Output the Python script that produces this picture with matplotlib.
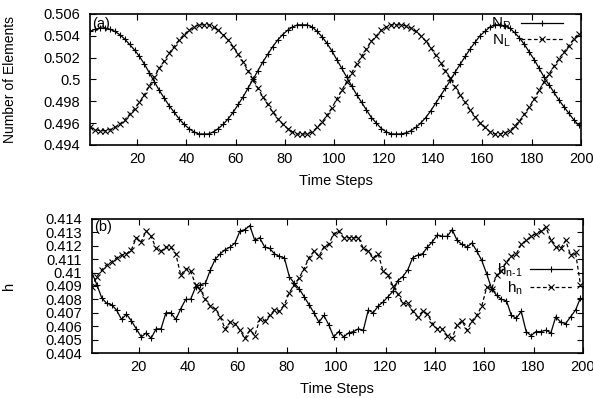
import numpy as np
import matplotlib
matplotlib.use('Agg')
import matplotlib.pyplot as plt

plt.rcParams['font.family'] = ['Liberation Sans', 'DejaVu Sans']
plt.rcParams['mathtext.fontset'] = 'custom'
plt.rcParams['mathtext.rm'] = 'Liberation Sans'
plt.rcParams['mathtext.it'] = 'Liberation Sans'

steps = np.arange(1, 200, 2)

# (a) fraction of elements
n_r = [0.5044, 0.5046, 0.5047, 0.5047, 0.5046, 0.5044, 0.5041, 0.5037, 0.5032, 0.5027,
       0.5021, 0.5014, 0.5006, 0.4998, 0.4990, 0.4983, 0.4976, 0.4970, 0.4964, 0.4959,
       0.4955, 0.4952, 0.4950, 0.4950, 0.4950, 0.4952, 0.4955, 0.4959, 0.4964, 0.4970,
       0.4977, 0.4984, 0.4992, 0.5000, 0.5008, 0.5016, 0.5023, 0.5030, 0.5036, 0.5041,
       0.5045, 0.5048, 0.5050, 0.5050, 0.5050, 0.5048, 0.5044, 0.5039, 0.5033, 0.5026,
       0.5018, 0.5010, 0.5002, 0.4994, 0.4986, 0.4979, 0.4972, 0.4965, 0.4960, 0.4955,
       0.4952, 0.4950, 0.4950, 0.4950, 0.4951, 0.4953, 0.4956, 0.4960, 0.4965, 0.4971,
       0.4978, 0.4985, 0.4992, 0.4999, 0.5007, 0.5014, 0.5021, 0.5028, 0.5034, 0.5040,
       0.5044, 0.5048, 0.5050, 0.5050, 0.5049, 0.5047, 0.5043, 0.5038, 0.5032, 0.5025,
       0.5018, 0.5010, 0.5002, 0.4995, 0.4988, 0.4981, 0.4975, 0.4969, 0.4963, 0.4958]
n_l = [0.4956, 0.4954, 0.4953, 0.4953, 0.4954, 0.4956, 0.4959, 0.4963, 0.4968, 0.4973,
       0.4979, 0.4986, 0.4994, 0.5002, 0.5010, 0.5017, 0.5024, 0.5030, 0.5036, 0.5041,
       0.5045, 0.5048, 0.5050, 0.5050, 0.5050, 0.5048, 0.5045, 0.5041, 0.5036, 0.5030,
       0.5023, 0.5016, 0.5008, 0.5000, 0.4992, 0.4984, 0.4977, 0.4970, 0.4964, 0.4959,
       0.4955, 0.4952, 0.4950, 0.4950, 0.4950, 0.4952, 0.4956, 0.4961, 0.4967, 0.4974,
       0.4982, 0.4990, 0.4998, 0.5006, 0.5014, 0.5021, 0.5028, 0.5035, 0.5040, 0.5045,
       0.5048, 0.5050, 0.5050, 0.5050, 0.5049, 0.5047, 0.5044, 0.5040, 0.5035, 0.5029,
       0.5022, 0.5015, 0.5008, 0.5001, 0.4993, 0.4986, 0.4979, 0.4972, 0.4966, 0.4960,
       0.4956, 0.4952, 0.4950, 0.4950, 0.4951, 0.4953, 0.4957, 0.4962, 0.4968, 0.4975,
       0.4982, 0.4990, 0.4998, 0.5005, 0.5012, 0.5019, 0.5025, 0.5031, 0.5037, 0.5042]

# (b) h values
h_prev = [0.4100, 0.4091, 0.4081, 0.4077, 0.4076, 0.4072, 0.4065, 0.4069, 0.4064, 0.4058,
          0.4052, 0.4055, 0.4051, 0.4058, 0.4058, 0.4070, 0.4070, 0.4065, 0.4073, 0.4080,
          0.4080, 0.4089, 0.4091, 0.4092, 0.4102, 0.4110, 0.4114, 0.4117, 0.4119, 0.4122,
          0.4131, 0.4132, 0.4135, 0.4124, 0.4126, 0.4119, 0.4118, 0.4114, 0.4112, 0.4111,
          0.4097, 0.4092, 0.4088, 0.4082, 0.4076, 0.4070, 0.4063, 0.4068, 0.4061, 0.4052,
          0.4056, 0.4052, 0.4055, 0.4056, 0.4058, 0.4057, 0.4072, 0.4070, 0.4075, 0.4078,
          0.4082, 0.4086, 0.4094, 0.4097, 0.4102, 0.4111, 0.4113, 0.4114, 0.4119, 0.4123,
          0.4128, 0.4127, 0.4127, 0.4132, 0.4124, 0.4121, 0.4119, 0.4122, 0.4116, 0.4109,
          0.4099, 0.4088, 0.4083, 0.4080, 0.4079, 0.4068, 0.4066, 0.4071, 0.4056, 0.4053,
          0.4056, 0.4056, 0.4057, 0.4055, 0.4067, 0.4063, 0.4062, 0.4067, 0.4072, 0.4081]
h_n = [0.4089, 0.4097, 0.4102, 0.4106, 0.4108, 0.4111, 0.4113, 0.4114, 0.4117, 0.4126,
       0.4123, 0.4131, 0.4127, 0.4118, 0.4116, 0.4119, 0.4119, 0.4114, 0.4098, 0.4103,
       0.4101, 0.4091, 0.4087, 0.4080, 0.4075, 0.4073, 0.4067, 0.4058, 0.4063, 0.4062,
       0.4057, 0.4051, 0.4057, 0.4053, 0.4065, 0.4064, 0.4068, 0.4072, 0.4071, 0.4076,
       0.4085, 0.4091, 0.4096, 0.4103, 0.4111, 0.4116, 0.4112, 0.4119, 0.4121, 0.4129,
       0.4131, 0.4126, 0.4126, 0.4126, 0.4126, 0.4118, 0.4116, 0.4111, 0.4114, 0.4101,
       0.4098, 0.4090, 0.4084, 0.4077, 0.4077, 0.4071, 0.4067, 0.4071, 0.4069, 0.4062,
       0.4058, 0.4058, 0.4053, 0.4051, 0.4061, 0.4064, 0.4057, 0.4064, 0.4068, 0.4075,
       0.4089, 0.4088, 0.4098, 0.4101, 0.4108, 0.4112, 0.4114, 0.4121, 0.4124, 0.4127,
       0.4129, 0.4131, 0.4134, 0.4124, 0.4119, 0.4118, 0.4124, 0.4113, 0.4115, 0.4091]

fig = plt.figure(figsize=(5.93, 3.98), dpi=100)
ax1 = fig.add_axes([0.152, 0.636, 0.828, 0.329])
ax2 = fig.add_axes([0.155, 0.113, 0.828, 0.337])

solid = dict(color='black', lw=0.9, marker='+', ms=4, mew=0.8)
dashed = dict(color='black', lw=0.9, ls=(0, (3, 2)), marker='x', ms=4, mew=0.8)

ax1.plot(steps, n_r, label=r'$\mathrm{N_R}$', **solid)
ax1.plot(steps, n_l, label=r'$\mathrm{N_L}$', **dashed)
ax1.set_ylim(0.494, 0.506)
ax1.set_yticks([0.494, 0.496, 0.498, 0.5, 0.502, 0.504, 0.506])
ax1.set_yticklabels(['0.494', '0.496', '0.498', '0.5', '0.502', '0.504', '0.506'])
ax1.set_ylabel('Number of Elements', fontsize=10)
ax1.yaxis.set_label_coords(-0.148, 0.5)
ax1.text(0.005, 0.98, '(a)', transform=ax1.transAxes, fontsize=10.5, va='top')

ax2.plot(steps, h_prev, label=r'$\mathrm{h_{n\text{-}1}}$', **solid)
ax2.plot(steps, h_n, label=r'$\mathrm{h_n}$', **dashed)
ax2.set_ylim(0.404, 0.414)
ax2.set_yticks(np.arange(0.404, 0.4145, 0.001))
ax2.set_yticklabels(['0.404', '0.405', '0.406', '0.407', '0.408', '0.409', '0.41',
                     '0.411', '0.412', '0.413', '0.414'])
ax2.set_ylabel('h', fontsize=10.5)
ax2.yaxis.set_label_coords(-0.155, 0.5)
ax2.text(0.005, 0.99, '(b)', transform=ax2.transAxes, fontsize=10.5, va='top')

for ax in (ax1, ax2):
    ax.set_xlim(1, 200)
    ax.set_xticks(range(20, 201, 20))
    ax.set_xlabel('Time Steps', fontsize=10.5, labelpad=6)
    ax.tick_params(direction='in', top=True, right=True, length=4, width=0.8,
                   labelsize=10.5)
    ax.tick_params(axis='y', pad=7)
    ax.tick_params(axis='x', pad=5)
    for s in ax.spines.values():
        s.set_linewidth(1.2)

ax1.legend(loc='upper right', frameon=False, markerfirst=False, fontsize=11,
           numpoints=1, handlelength=2.75, handletextpad=0.65, labelspacing=0.0,
           borderpad=0, borderaxespad=0, bbox_to_anchor=(0.963, 0.985))
ax2.legend(loc='upper right', frameon=False, markerfirst=False, fontsize=11,
           numpoints=1, handlelength=2.75, handletextpad=0.5, labelspacing=0.0,
           borderpad=0, borderaxespad=0, bbox_to_anchor=(0.978, 0.68))

fig.savefig('out.png', dpi=100)
